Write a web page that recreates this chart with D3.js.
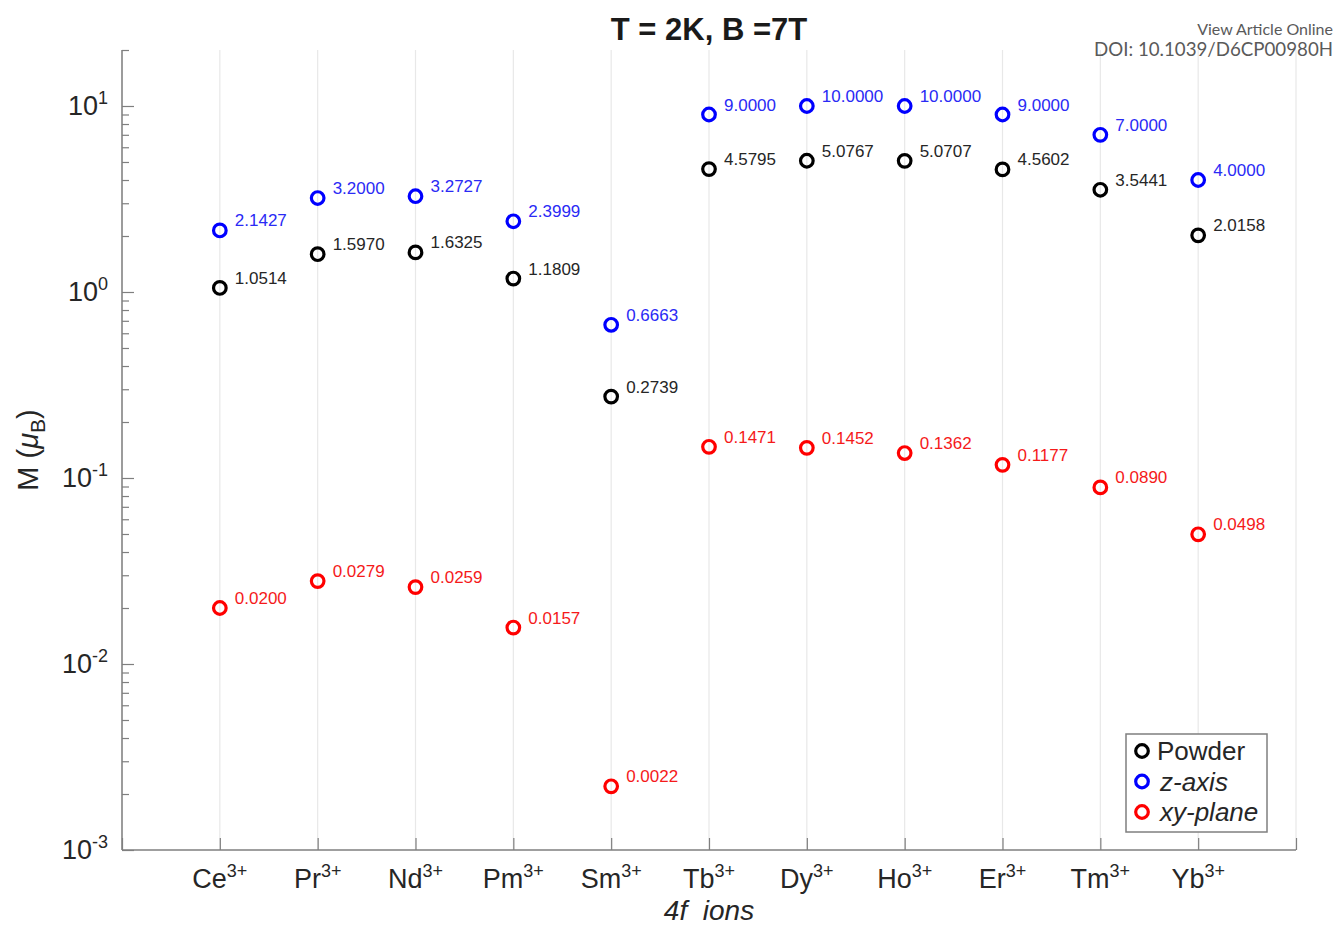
<!DOCTYPE html>
<html>
<head>
<meta charset="utf-8">
<script src="https://cdn.jsdelivr.net/npm/d3@7"></script>
<style>
  body { margin: 0; background: #fff; }
  svg { font-family: "Liberation Sans", Arial, sans-serif; }
</style>
</head>
<body>
<svg id="chart" width="1336" height="928"></svg>
<script>
// ions along the x axis
const ions = ['Ce', 'Pr', 'Nd', 'Pm', 'Sm', 'Tb', 'Dy', 'Ho', 'Er', 'Tm', 'Yb'];
const powder = [1.0514, 1.5970, 1.6325, 1.1809, 0.2739, 4.5795, 5.0767, 5.0707, 4.5602, 3.5441, 2.0158];
const zAxis = [2.1427, 3.2000, 3.2727, 2.3999, 0.6663, 9.0000, 10.0000, 10.0000, 9.0000, 7.0000, 4.0000];
const xyPlane = [0.0200, 0.0279, 0.0259, 0.0157, 0.0022, 0.1471, 0.1452, 0.1362, 0.1177, 0.0890, 0.0498];
const yTickExp = [-3, -2, -1, 0, 1];

const series = [
  {name: 'Powder', values: powder, color: '#000000', text: '#262626', italic: false},
  {name: 'z-axis', values: zAxis, color: '#0000ff', text: '#2a2af5', italic: true},
  {name: 'xy-plane', values: xyPlane, color: '#ff0000', text: '#f51a1a', italic: true}
];

const svg = d3.select('#chart');
const plotL = 122, plotR = 1296, plotT = 50, plotB = 850;
const axisColor = '#7f7f7f';
const textColor = '#262626';

const x = d3.scaleLinear().domain([0, 12]).range([plotL, plotR]);
const y = d3.scaleLog().domain([1e-3, 20]).range([plotB, plotT]);

// grid
svg.append('g')
  .selectAll('line')
  .data(d3.range(0, 13))
  .enter().append('line')
  .attr('x1', d => x(d)).attr('x2', d => x(d))
  .attr('y1', plotT).attr('y2', plotB)
  .attr('stroke', '#e8e8e8')
  .attr('stroke-width', 1.2);

// minor y ticks
const minor = [];
yTickExp.forEach(e => { for (let k = 2; k <= 9; k++) { const v = k * Math.pow(10, e); if (v <= 20) minor.push(v); } });
svg.append('g')
  .attr('transform', `translate(${plotL},0)`)
  .call(d3.axisRight(y).tickValues(minor).tickSize(7).tickFormat(''))
  .call(g => g.select('.domain').remove())
  .call(g => g.selectAll('line').attr('stroke', axisColor).attr('stroke-width', 1.2));

// major y ticks
const yAxis = svg.append('g')
  .attr('transform', `translate(${plotL},0)`)
  .call(d3.axisRight(y).tickValues(yTickExp.map(e => Math.pow(10, e))).tickSize(12).tickSizeOuter(0).tickFormat(''));
yAxis.select('.domain').attr('stroke', axisColor).attr('stroke-width', 1.5).attr('d', `M0,${plotT}V${plotB}`);
yAxis.selectAll('line').attr('stroke', axisColor).attr('stroke-width', 1.2);

const yLab = svg.append('g').selectAll('text')
  .data(yTickExp)
  .enter().append('text')
  .attr('x', 108)
  .attr('y', d => y(Math.pow(10, d)) + 9)
  .attr('text-anchor', 'end')
  .attr('fill', textColor)
  .style('font-size', '27px');
yLab.append('tspan').text('10');
yLab.append('tspan').attr('dy', -11).style('font-size', '18px').text(d => d);

// x axis
const xAxis = svg.append('g')
  .attr('transform', `translate(0,${plotB})`)
  .call(d3.axisTop(x).tickValues(d3.range(0, 13)).tickSize(12).tickSizeOuter(0).tickFormat(''));
xAxis.select('.domain').attr('stroke', axisColor).attr('stroke-width', 1.5).attr('d', `M${plotL},0H${plotR}`);
xAxis.selectAll('line').attr('stroke', axisColor).attr('stroke-width', 1.2);

const xLab = svg.append('g').selectAll('text')
  .data(ions)
  .enter().append('text')
  .attr('x', (d, i) => x(i + 1))
  .attr('y', 888)
  .attr('text-anchor', 'middle')
  .attr('fill', textColor)
  .style('font-size', '27px');
xLab.append('tspan').text(d => d);
xLab.append('tspan').attr('dy', -11).style('font-size', '18px').text('3+');

// axis titles
svg.append('text')
  .attr('x', x(6))
  .attr('y', 920)
  .attr('text-anchor', 'middle')
  .attr('fill', textColor)
  .style('font-size', '28px')
  .style('font-style', 'italic')
  .style('white-space', 'pre')
  .text('4f  ions');

const yTitle = svg.append('text')
  .attr('transform', 'translate(38,450) rotate(-90)')
  .attr('text-anchor', 'middle')
  .attr('fill', textColor)
  .style('font-size', '29px');
yTitle.append('tspan').text('M (');
yTitle.append('tspan').style('font-style', 'italic').text('μ');
yTitle.append('tspan').attr('dy', 7).style('font-size', '21px').text('B');
yTitle.append('tspan').attr('dy', -7).text(')');

// title
svg.append('text')
  .attr('x', x(6))
  .attr('y', 40)
  .attr('text-anchor', 'middle')
  .attr('fill', '#1a1a1a')
  .style('font-size', '31px')
  .style('font-weight', 'bold')
  .text('T = 2K, B =7T');

// points and value labels
series.forEach(s => {
  const g = svg.append('g');
  g.selectAll('circle')
    .data(s.values)
    .enter().append('circle')
    .attr('cx', (d, i) => x(i + 1))
    .attr('cy', d => y(d))
    .attr('r', 6.3)
    .attr('fill', 'none')
    .attr('stroke', s.color)
    .attr('stroke-width', 3.2);
  g.selectAll('text')
    .data(s.values)
    .enter().append('text')
    .attr('x', (d, i) => x(i + 1) + 15)
    .attr('y', d => y(d) - 4)
    .attr('fill', s.text)
    .style('font-size', '17px')
    .text(d => d.toFixed(4));
});

// legend
const lg = svg.append('g').attr('transform', 'translate(1126,734)');
lg.append('rect')
  .attr('width', 141).attr('height', 98)
  .attr('fill', '#fff')
  .attr('stroke', axisColor)
  .attr('stroke-width', 1.5);
series.forEach((s, i) => {
  const ry = 17 + i * 30.5;
  lg.append('circle')
    .attr('cx', 16).attr('cy', ry)
    .attr('r', 6.3)
    .attr('fill', 'none')
    .attr('stroke', s.color)
    .attr('stroke-width', 3.2);
  lg.append('text')
    .attr('x', s.italic ? 34 : 31).attr('y', ry + 9)
    .attr('fill', textColor)
    .style('font-size', '26px')
    .style('font-style', s.italic ? 'italic' : 'normal')
    .text(s.name);
});

// publisher watermark
svg.append('text')
  .attr('x', 1333).attr('y', 35)
  .attr('text-anchor', 'end')
  .attr('fill', '#5a5a5a')
  .style('font-family', 'Lato, "Open Sans", sans-serif')
  .style('font-size', '16px')
  .text('View Article Online');
svg.append('text')
  .attr('x', 1333).attr('y', 56)
  .attr('text-anchor', 'end')
  .attr('fill', '#5a5a5a')
  .style('font-family', 'Lato, "Open Sans", sans-serif')
  .style('font-size', '18.7px')
  .text('DOI: 10.1039/D6CP00980H');
</script>
</body>
</html>
